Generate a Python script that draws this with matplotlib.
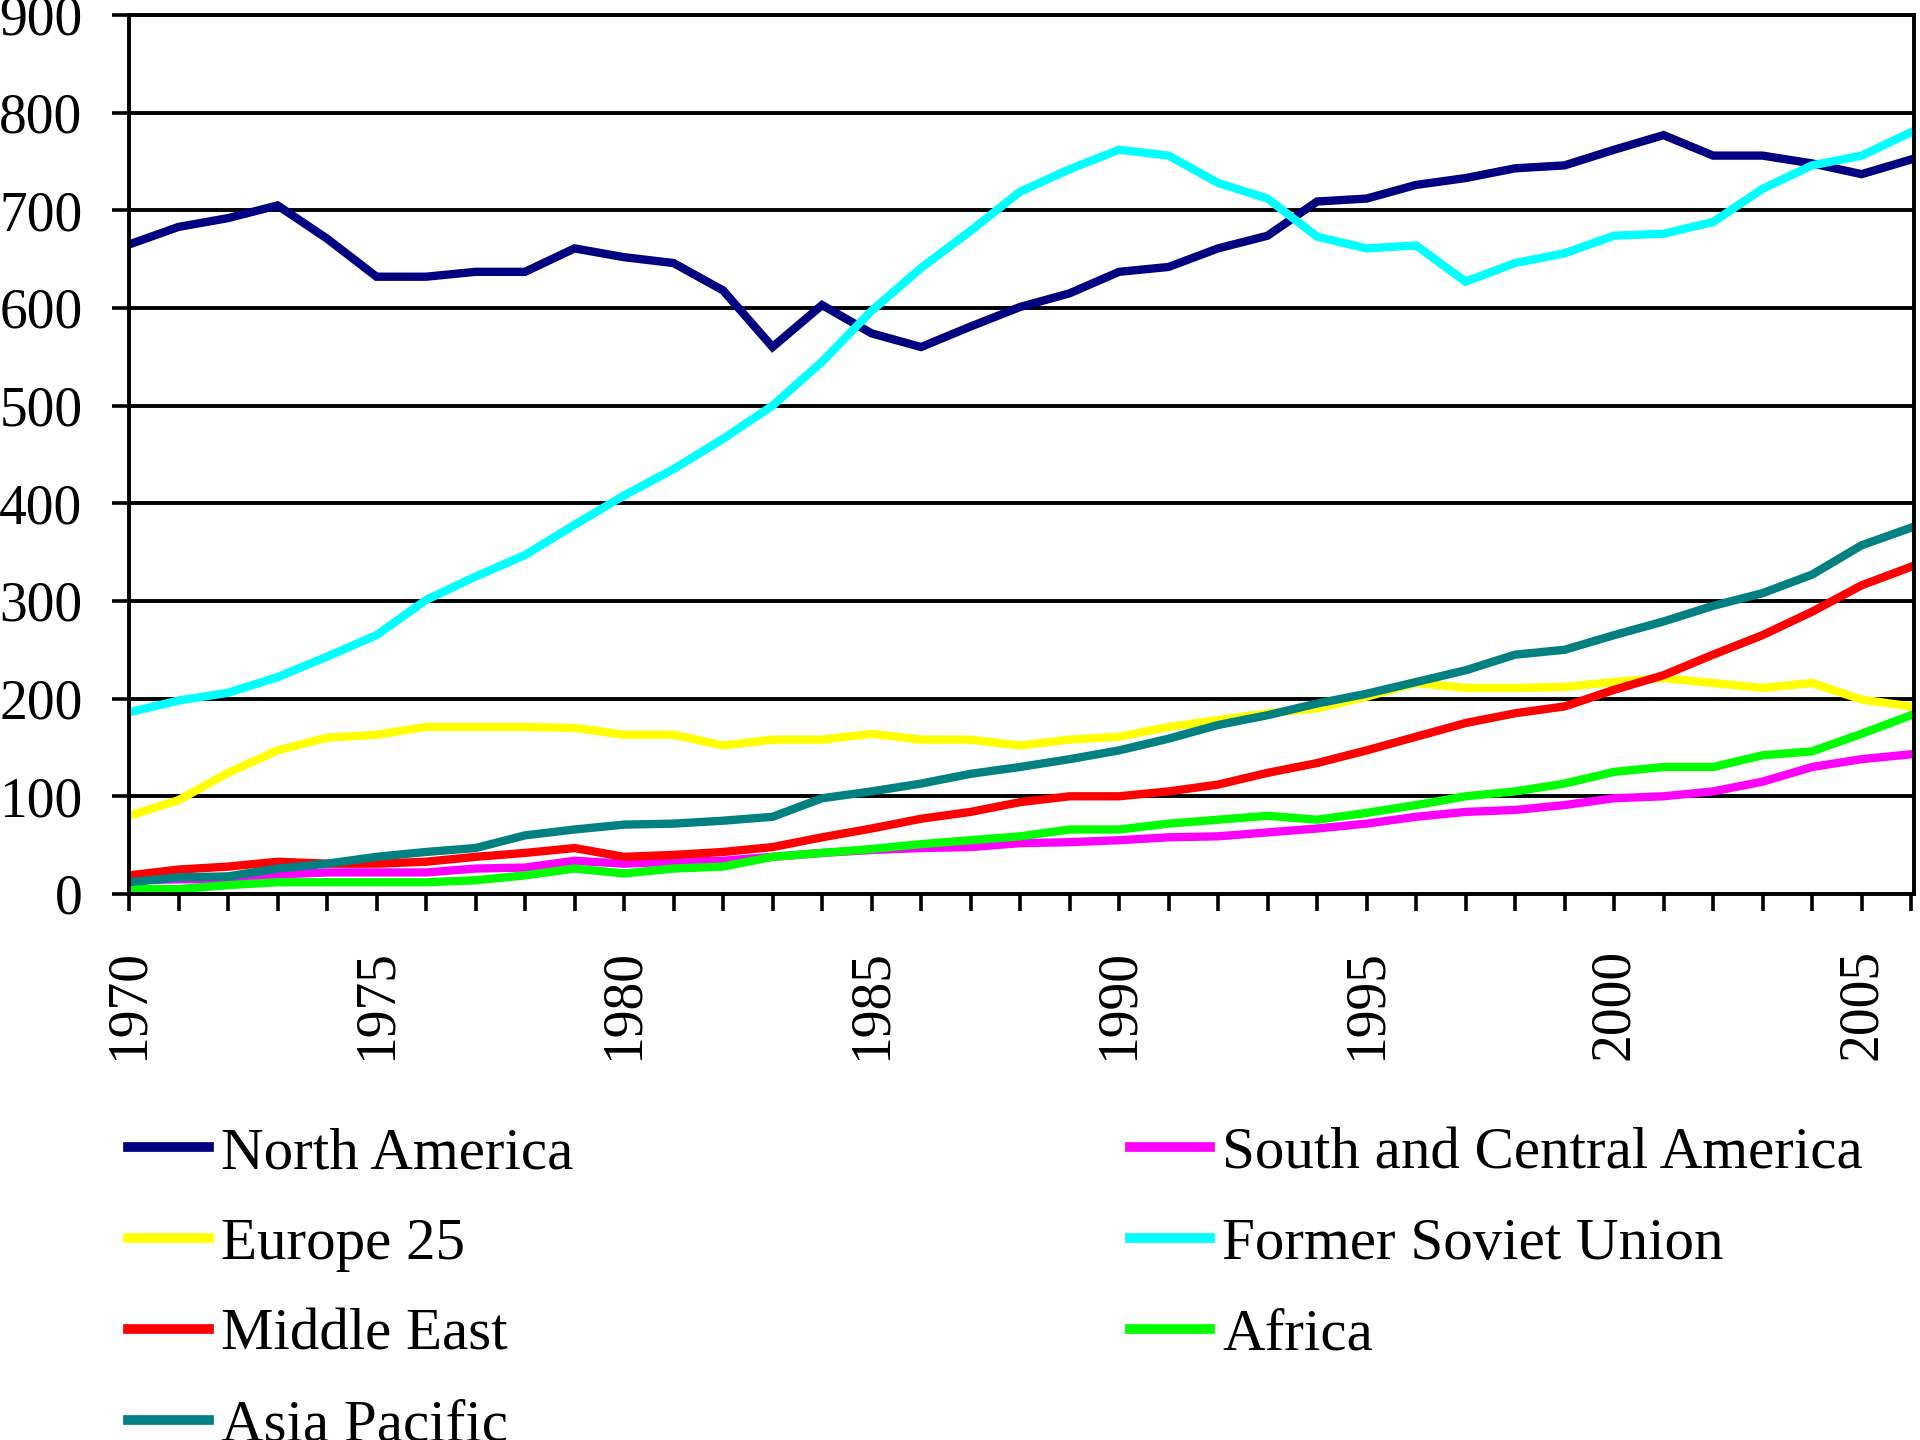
import matplotlib
matplotlib.use("Agg")
import matplotlib.pyplot as plt

years = list(range(1970, 2007))

north_america = [665, 683, 692, 705, 671, 632, 632, 637, 637, 661, 652, 646, 618, 560, 603, 574, 560, 581, 601, 615,
                 637, 642, 661, 674, 709, 712, 726, 733, 743, 746, 762, 777, 756, 756, 748, 737, 752]
south_central_america = [14, 15, 15, 20, 22, 22, 22, 26, 27, 34, 31, 33, 34, 38, 42, 45, 47, 48, 52, 53,
                         55, 58, 59, 63, 67, 72, 79, 84, 86, 91, 98, 100, 105, 115, 130, 138, 143]
europe_25 = [80, 96, 124, 147, 160, 163, 171, 171, 171, 170, 163, 163, 152, 158, 158, 164, 158, 158, 152, 158,
             161, 171, 178, 185, 190, 202, 216, 211, 211, 212, 217, 221, 216, 211, 216, 199, 192]
former_soviet_union = [186, 198, 206, 222, 243, 265, 301, 325, 347, 378, 408, 435, 466, 500, 545, 597, 641, 679, 719, 742,
                       762, 756, 728, 712, 673, 661, 664, 627, 646, 656, 674, 676, 688, 722, 746, 756, 780]
middle_east = [19, 25, 28, 33, 31, 31, 33, 38, 42, 47, 38, 40, 43, 48, 58, 67, 77, 84, 94, 100,
               100, 105, 112, 124, 134, 147, 161, 175, 185, 192, 209, 224, 245, 265, 289, 316, 335]
africa = [5, 5, 9, 12, 12, 12, 12, 14, 19, 26, 21, 26, 28, 38, 42, 46, 51, 55, 59, 66,
          66, 72, 76, 80, 76, 83, 91, 100, 105, 113, 125, 130, 130, 142, 146, 164, 183]
asia_pacific = [12, 17, 18, 26, 31, 38, 43, 47, 60, 66, 71, 72, 75, 79, 98, 105, 113, 123, 130, 138,
                147, 159, 173, 183, 195, 205, 217, 229, 245, 250, 265, 279, 295, 308, 327, 357, 375]

# drawing order follows the original workbook (later ones on top)
series = [
    ("North America", north_america, "#000080"),
    ("South and Central America", south_central_america, "#ff00ff"),
    ("Europe 25", europe_25, "#ffff00"),
    ("Former Soviet Union", former_soviet_union, "#00ffff"),
    ("Middle East", middle_east, "#ff0000"),
    ("Africa", africa, "#00ff00"),
    ("Asia Pacific", asia_pacific, "#008080"),
]

plt.rcParams['font.family'] = ['Liberation Serif', 'DejaVu Serif']

fig = plt.figure(figsize=(19.2, 14.4), dpi=100)
ax = fig.add_axes([0.0672, 0.3792, 0.9297, 0.6104])

lines = {}
for name, vals, col in series:
    ln, = ax.plot(years, vals, color=col, lw=6, label=name, solid_joinstyle='miter')
    lines[name] = ln

ax.set_xlim(1970, 2006.06)
ax.set_ylim(0, 900)
ax.set_yticks(range(0, 901, 100))
ax.set_xticks(range(1970, 2006, 5))
ax.set_xticks(years, minor=True)
ax.set_xticklabels([str(y) for y in range(1970, 2006, 5)], rotation=90)

ax.set_axisbelow(True)
ax.yaxis.grid(True, color='black', lw=2.8)
for sp in ax.spines.values():
    sp.set_color('black')
    sp.set_linewidth(2.8)

ax.tick_params(axis='x', which='both', direction='out', length=12.5, width=2.6, pad=27, labelsize=40)
ax.tick_params(axis='y', direction='out', length=12, width=2.6, pad=21.5, labelsize=40)

# legend: two columns, first column filled first
order = ["North America", "Europe 25", "Middle East", "Asia Pacific",
         "South and Central America", "Former Soviet Union", "Africa"]
leg = fig.legend([lines[n] for n in order], order, ncol=2, loc='upper left',
                 bbox_to_anchor=(0.0669, 0.2175), bbox_transform=fig.transFigure,
                 frameon=False, fontsize=42.5, borderpad=0, borderaxespad=0,
                 handlelength=1.37, handletextpad=0.2, columnspacing=9.42, labelspacing=0.62)
for lh in leg.get_lines():
    lh.set_linewidth(7)

fig.savefig("out.png", dpi=100)
